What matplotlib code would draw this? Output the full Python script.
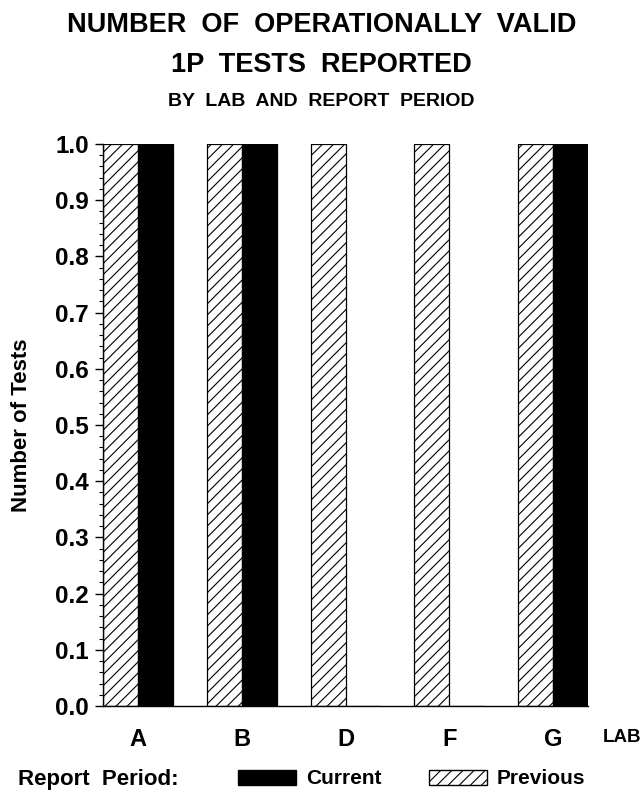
import matplotlib
matplotlib.use("Agg")
import matplotlib.pyplot as plt
import numpy as np
from matplotlib.patches import Patch
from matplotlib.ticker import MultipleLocator

labs = ["A", "B", "D", "F", "G"]
previous = [1, 1, 1, 1, 1]
current = [1, 1, 0, 0, 1]
yticks = [0.0, 0.1, 0.2, 0.3, 0.4, 0.5, 0.6, 0.7, 0.8, 0.9, 1.0]

plt.rcParams['font.family'] = ['Liberation Sans', 'DejaVu Sans']
plt.rcParams['hatch.linewidth'] = 0.8

fig = plt.figure(figsize=(6.43, 7.94), dpi=100)
ax = fig.add_axes([103/643, 1-706/794, (588-103)/643, (706-144)/794])

x = np.arange(len(labs))
w = 0.337
ax.bar(x - w/2, previous, width=w, color="white", edgecolor="black",
       hatch="///", linewidth=0.9, zorder=2)
ax.bar(x + w/2, current, width=w, color="black", edgecolor="black",
       linewidth=0.9, zorder=2)

ax.set_xlim(-w, len(labs) - 1 + w)
ax.set_ylim(0, 1.0)
ax.set_xticks(x)
ax.set_xticklabels(labs, fontsize=17, fontweight="bold")
ax.tick_params(axis="x", length=0, pad=16)
ax.set_yticks(yticks)
ax.set_yticklabels([f"{v:.1f}" for v in yticks], fontsize=17.5, fontweight="bold")
ax.yaxis.set_minor_locator(MultipleLocator(0.02))
ax.tick_params(axis="y", which="major", length=6, width=1, pad=4, direction="out")
ax.tick_params(axis="y", which="minor", length=3, width=0.8, direction="out")
for s in ["top", "right"]:
    ax.spines[s].set_visible(False)
for s in ["left", "bottom"]:
    ax.spines[s].set_linewidth(1.0)

ax.set_ylabel("Number of Tests", fontsize=16, fontweight="bold")
ax.yaxis.set_label_coords(-0.146, 0.5)

fig.text(0.5, 1-25/794, "NUMBER  OF  OPERATIONALLY  VALID", ha="center", va="center",
         fontsize=19.5, fontweight="bold")
fig.text(0.5, 1-65/794, "1P  TESTS  REPORTED", ha="center", va="center",
         fontsize=19.5, fontweight="bold")
fig.text(0.5, 1-102/794, "BY  LAB  AND  REPORT  PERIOD", ha="center", va="center",
         fontsize=14, fontweight="bold")

fig.text(603/643, 1-738/794, "LAB", ha="left", va="center", fontsize=13.5,
         fontweight="bold")

fig.text(18/643, 1-779/794, "Report  Period:", ha="left", va="center", fontsize=16,
         fontweight="bold")
handles = [Patch(facecolor="black", edgecolor="black", label="Current"),
           Patch(facecolor="white", edgecolor="black", hatch="///", label="Previous")]
fig.legend(handles=handles, loc="center left", bbox_to_anchor=(238/643, 1-779/794),
           ncol=2, frameon=False, prop={"size": 15, "weight": "bold"},
           handlelength=2.8, handleheight=0.75,
           handletextpad=0.45, columnspacing=2.3, borderpad=0, borderaxespad=0)

fig.savefig("out.png", dpi=100)
